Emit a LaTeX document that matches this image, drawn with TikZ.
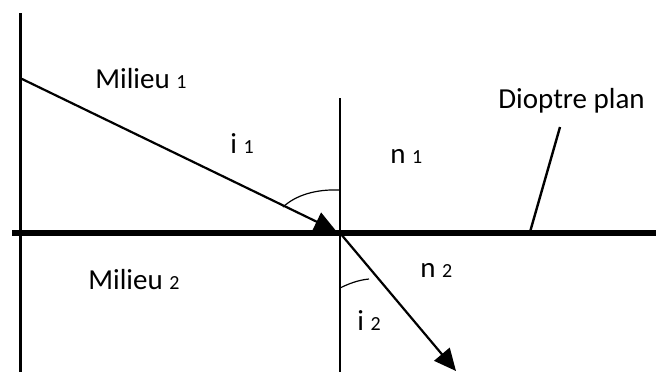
\documentclass[tikz,border=0pt]{standalone}
\usepackage{fontspec}
\setmainfont{Carlito}
\usetikzlibrary{arrows.meta}
\newcommand{\ind}[1]{{\fontsize{10}{10}\selectfont #1}}
\tikzset{
	ray/.style={line width=1.1pt, -{Triangle[length=11pt, width=10pt]}},
	anglemark/.style={line width=.6pt},
	lbl/.style={anchor=base west, inner sep=0pt}
}
\begin{document}
\begin{tikzpicture}[x=.5pt, y=-.5pt, font=\fontsize{14.5}{16}\selectfont]
		\useasboundingbox (0,0) rectangle (656,372);
		\coordinate (O) at (340,233);
		\coordinate (wallTop) at (20,13);
		\coordinate (wallBot) at (20,372);
		\coordinate (surfL) at (12,233);
		\coordinate (surfR) at (656,233);
		\coordinate (normTop) at (340,98);
		\coordinate (normBot) at (340,372);
		\coordinate (src) at (20,78);
		\coordinate (out) at (456,371);
		\coordinate (tagFoot) at (530,232);
		\coordinate (tagTop) at (560,127);
		% walls, surface and normal
		\draw[line width=1.5pt] (wallTop) -- (wallBot);
		\draw[line width=1.1pt] (normTop) -- (normBot);
		\draw[line width=2.6pt] (surfL) -- (surfR);
		% rays
		\draw[ray, shorten >=2pt] (src) -- (O);
		\draw[ray] (O) -- (out);
		% angles
		\draw[anglemark] (283,207) .. controls (296,195) and (316,189) .. (340,190);
		\draw[anglemark] (340,288) .. controls (348,284) and (358,280) .. (369,279);
		% leader
		\draw[line width=1.2pt] (tagFoot) -- (tagTop);
		% labels
		\node[lbl] (milieuA) at (95,88) {Milieu \ind{1}};
		\node[lbl] (milieuB) at (88,289) {Milieu \ind{2}};
		\node[lbl] (angA) at (230,153) {i \ind{1}};
		\node[lbl] (angB) at (357,330) {i \ind{2}};
		\node[lbl] (indA) at (390,163) {n \ind{1}};
		\node[lbl] (indB) at (420,277) {n \ind{2}};
		\node[lbl] (dioptre) at (498,108) {Dioptre plan};
	\end{tikzpicture}
\end{document}
